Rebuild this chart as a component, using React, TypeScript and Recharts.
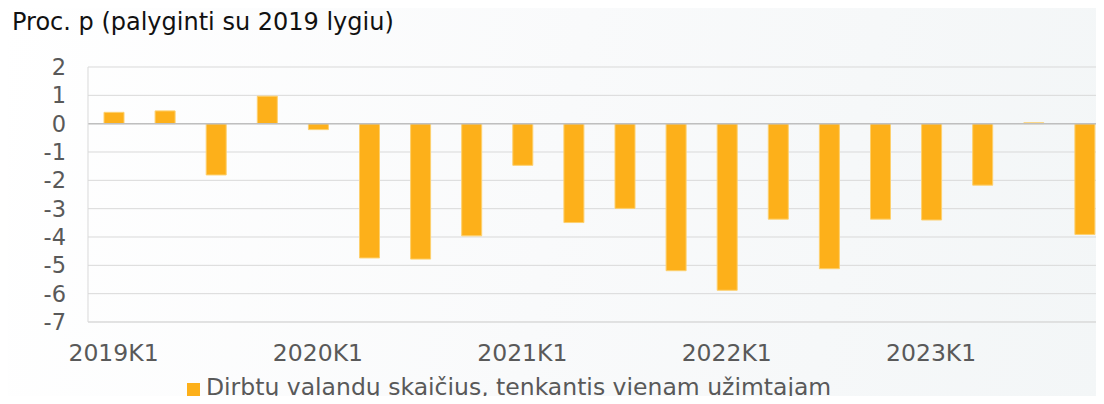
import { Bar, BarChart, CartesianGrid, Legend, ReferenceLine, XAxis, YAxis } from "recharts";

const quarters = [
  "2019K1", "2019K2", "2019K3", "2019K4",
  "2020K1", "2020K2", "2020K3", "2020K4",
  "2021K1", "2021K2", "2021K3", "2021K4",
  "2022K1", "2022K2", "2022K3", "2022K4",
  "2023K1", "2023K2", "2023K3", "2023K4",
];
const hours = [
  0.4, 0.45, -1.81, 0.97,
  -0.21, -4.74, -4.78, -3.96,
  -1.47, -3.49, -2.99, -5.19,
  -5.88, -3.37, -5.12, -3.37,
  -3.4, -2.17, 0.03, -3.91,
];
const yTicks = [2, 1, 0, -1, -2, -3, -4, -5, -6, -7];
const seriesName = "Dirbtų valandų skaičius, tenkantis vienam užimtajam";

const ORANGE = "#fdb01a";
const FONT = "'DejaVu Sans', Verdana, sans-serif";

const data = quarters.map((q, i) => ({ q, v: hours[i] }));

function LegendBox() {
  return (
    <div style={{ display: "flex", alignItems: "center", fontFamily: FONT, fontSize: 23.5, lineHeight: "24px", color: "#595959", whiteSpace: "nowrap" }}>
      <span style={{ width: 13, height: 13, background: ORANGE, marginRight: 6, marginTop: 5 }} />
      {seriesName}
    </div>
  );
}

export default function App() {
  return (
    <div style={{
      margin: -8, width: 1104, height: 404, overflow: "hidden", position: "relative",
      background: "linear-gradient(100deg, #ffffff 0%, #f9fafb 50%, #f3f6f7 100%)",
    }}>
      <div style={{ position: "absolute", left: 12, top: 8, fontFamily: FONT, fontSize: 24, lineHeight: "28px", color: "#111" }}>
        Proc. p (palyginti su 2019 lygiu)
      </div>
      <BarChart width={1112} height={404} data={data} barSize={20}
        margin={{ top: 67, right: 2, bottom: 42, left: 0 }}>
        <CartesianGrid vertical={false} stroke="#d9d9d9" />
        <XAxis dataKey="q" interval={3} tickLine={false} axisLine={{ stroke: "#d9d9d9" }}
          height={40} tickMargin={16} tick={{ fill: "#595959", fontSize: 23.5, fontFamily: FONT }} />
        <YAxis width={88} domain={[-7, 2]} ticks={yTicks} interval={0} tickLine={false} axisLine={{ stroke: "#d9d9d9" }}
          tickMargin={16} tick={{ fill: "#595959", fontSize: 22.5, fontFamily: FONT }} />
        <ReferenceLine y={0} stroke="#bfbfbf" strokeWidth={1.5} />
        <Legend layout="horizontal" verticalAlign="middle" align="center" content={<LegendBox />}
          wrapperStyle={{ top: 375, left: 187, width: "auto" }} />
        <Bar dataKey="v" name={seriesName} fill={ORANGE} stroke="#fdd06e" strokeWidth={1} isAnimationActive={false} />
      </BarChart>
    </div>
  );
}
